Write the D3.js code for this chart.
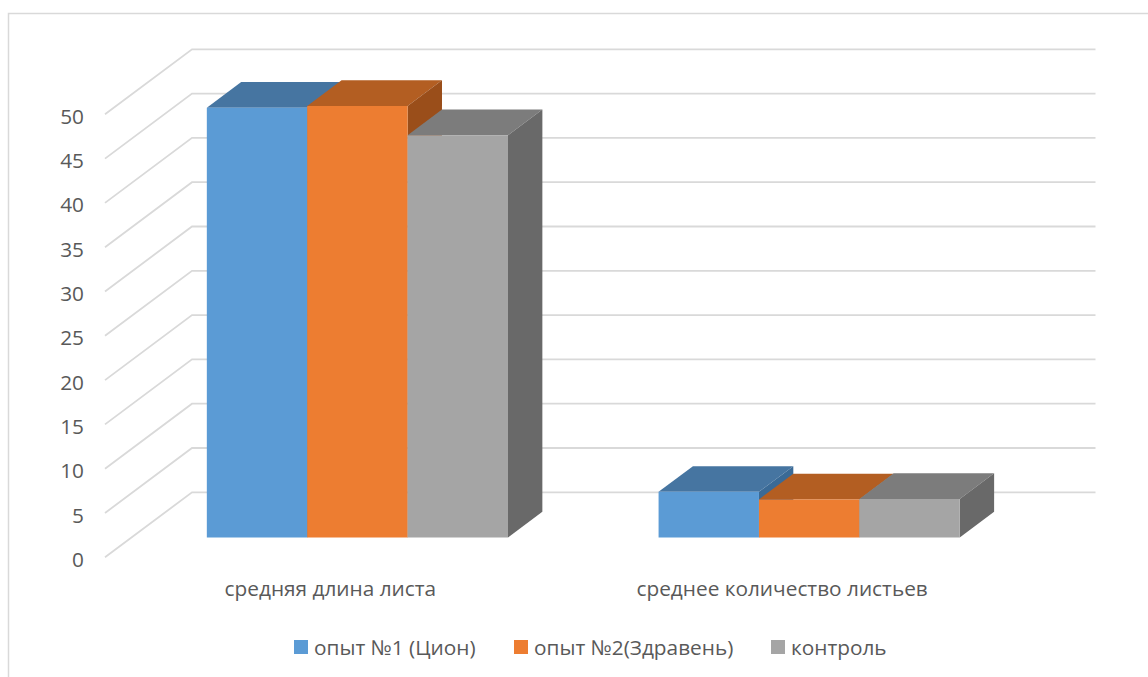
<!DOCTYPE html>
<html lang="ru">
<head>
<meta charset="utf-8">
<title>Средняя длина листа и количество листьев</title>
<script src="https://cdn.jsdelivr.net/npm/d3@7"></script>
<style>
  html, body { margin: 0; padding: 0; background: #fff; }
  svg { display: block; }
  text { font-family: "Open Sans", "Noto Sans", sans-serif; fill: #595959; }
</style>
</head>
<body>
<svg id="chart" width="1148" height="677"></svg>
<script>
const categories = ["средняя длина листа", "среднее количество листьев"];
const seriesNames = ["опыт №1 (Цион)", "опыт №2(Здравень)", "контроль"];
const cionValues = [48.5, 5.15];
const zdravenValues = [48.7, 4.3];
const controlValues = [45.4, 4.35];
const yTicks = [0, 5, 10, 15, 20, 25, 30, 35, 40, 45, 50];

const faceFront = ["#5B9BD5", "#ED7D31", "#A5A5A5"];
const faceTop = ["#4675A1", "#B35E22", "#7C7C7C"];
const faceSide = ["#3A6A96", "#9A4E1A", "#696969"];

const seriesValues = [cionValues, zdravenValues, controlValues];

// Oblique projection: depth 0 is the front of the floor, depth 1 the back wall.
const depthX = 87, depthY = 65;
const barNear = 0.305, barFar = 0.7;
const labelSize = 20.8;

const x = d3.scaleBand().domain(categories).range([105, 1008.5])
  .paddingInner(1 / 3).paddingOuter(1 / 6);
const seriesX = d3.scaleBand().domain(d3.range(seriesNames.length))
  .range([0, x.bandwidth()]);
const y = d3.scaleLinear().domain([0, 50]).range([557.3, 114.3]);

const project = (px, value, depth) => [px + depth * depthX, y(value) - depth * depthY];
const outline = points => "M" + points.map(p => p.join(",")).join("L") + "Z";

const svg = d3.select("#chart");

// Chart area border, running off the right and bottom edges
svg.append("path")
  .attr("d", "M8.5,677V13.5H1148")
  .attr("fill", "none").attr("stroke", "#D9D9D9").attr("stroke-width", 1.5);

// Back wall gridlines and their slanted continuation along the floor side
const [left, right] = x.range();
svg.append("g").selectAll("path").data(yTicks).join("path")
  .attr("fill", "none").attr("stroke", "#D9D9D9").attr("stroke-width", 1.8)
  .attr("d", t => {
    const a = project(left, t, 0), b = project(left, t, 1), c = project(right, t, 1);
    return `M${a}L${b}L${c}`;
  });

// Value axis labels
svg.append("g").selectAll("text").data(yTicks).join("text")
  .attr("x", 84).attr("y", t => y(t) + 9.5)
  .attr("text-anchor", "end").attr("font-size", labelSize)
  .text(t => t);

// Bars, painted left to right so that each block overlaps the previous one
const bars = categories.flatMap((c, ci) =>
  seriesValues.map((vals, si) => ({ category: c, series: si, value: vals[ci] })));

const bar = svg.append("g").selectAll("g").data(bars).join("g");

bar.append("path").attr("fill", d => faceTop[d.series]).attr("d", d => {
  const x0 = x(d.category) + seriesX(d.series), x1 = x0 + seriesX.bandwidth();
  return outline([project(x0, d.value, barNear), project(x1, d.value, barNear),
                  project(x1, d.value, barFar), project(x0, d.value, barFar)]);
});
bar.append("path").attr("fill", d => faceSide[d.series]).attr("d", d => {
  const x1 = x(d.category) + seriesX(d.series) + seriesX.bandwidth();
  return outline([project(x1, 0, barNear), project(x1, d.value, barNear),
                  project(x1, d.value, barFar), project(x1, 0, barFar)]);
});
bar.append("path").attr("fill", d => faceFront[d.series]).attr("d", d => {
  const x0 = x(d.category) + seriesX(d.series), x1 = x0 + seriesX.bandwidth();
  return outline([project(x0, 0, barNear), project(x1, 0, barNear),
                  project(x1, d.value, barNear), project(x0, d.value, barNear)]);
});

// Category labels
svg.append("g").selectAll("text").data(categories).join("text")
  .attr("x", c => x(c) + x.bandwidth() / 2 - 0.5)
  .attr("y", 596)
  .attr("text-anchor", "middle").attr("font-size", labelSize)
  .text(c => c);

// Legend
const legendSwatchX = [294, 514, 771];
const legend = svg.append("g").selectAll("g").data(seriesNames).join("g")
  .attr("transform", (d, i) => `translate(${legendSwatchX[i]},640)`);
legend.append("rect").attr("width", 14).attr("height", 14)
  .attr("fill", (d, i) => faceFront[i]);
legend.append("text").attr("x", 20).attr("y", 15)
  .attr("font-size", labelSize).text(d => d);
</script>
</body>
</html>
